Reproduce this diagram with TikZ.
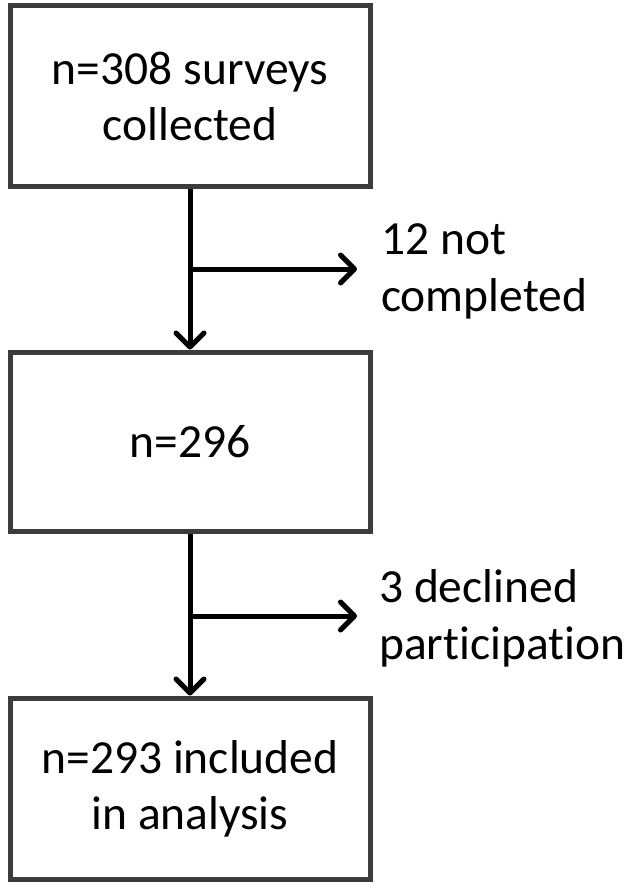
\documentclass[tikz,border=0pt]{standalone}
\usepackage{fontspec}
\setmainfont[Ligatures=NoCommon]{Carlito}
\usetikzlibrary{arrows.meta}
\definecolor{boxline}{HTML}{3C3C3C}
\tikzset{
  box/.style={draw=boxline, line width=5pt, fill=white, minimum width=360pt, align=center, font=\fontsize{47.5}{56}\selectfont, inner sep=0pt},
  sidelabel/.style={anchor=west, align=left, font=\fontsize{47.5}{57}\selectfont, inner sep=0pt},
  flow/.style={line width=5pt, -{Straight Barb[length=14pt, width=28pt, line cap=round, line join=round]}},
  branch/.style={line width=5pt}
}
\begin{document}
\begin{tikzpicture}[x=1pt,y=-1pt]
\useasboundingbox (0,0) rectangle (630,887);
\node[box, minimum height=181pt] (b1) at (190,96) {n=308 surveys\\collected};
\node[box, minimum height=179pt] (b2) at (190,441.5) {n=296};
\node[box, minimum height=181pt] (b3) at (190,788.5) {n=293 included\\in analysis};
\coordinate (j1) at (190,269);
\coordinate (t1) at (357,269);
\coordinate (j2) at (190,616);
\coordinate (t2) at (357,616);
\node[sidelabel] (l1) at (381,271) {12 not\\completed};
\node[sidelabel] (l2) at (379,618) {3 declined\\participation};
\draw[flow] (b1.south) -- (b2.north);
\draw[flow] (j1) -- (t1);
\draw[flow] (b2.south) -- (b3.north);
\draw[flow] (j2) -- (t2);
\end{tikzpicture}
\end{document}
